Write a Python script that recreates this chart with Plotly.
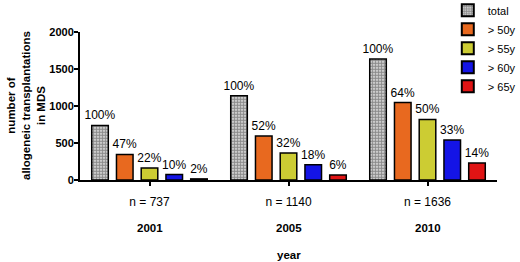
import plotly.graph_objects as go

years = ["2001", "2005", "2010"]
n_totals = [737, 1140, 1636]
series_names = ["total", "> 50y", "> 55y", "> 60y", "> 65y"]
values = {
    "total": [737, 1140, 1636],
    "> 50y": [346, 593, 1047],
    "> 55y": [162, 365, 818],
    "> 60y": [74, 205, 540],
    "> 65y": [15, 68, 229],
}
pct_labels = {
    "total": ["100%", "100%", "100%"],
    "> 50y": ["47%", "52%", "64%"],
    "> 55y": ["22%", "32%", "50%"],
    "> 60y": ["10%", "18%", "33%"],
    "> 65y": ["2%", "6%", "14%"],
}
colors = {
    "total": "#d8d8d8",
    "> 50y": "#e8691f",
    "> 55y": "#cccc33",
    "> 60y": "#1414e6",
    "> 65y": "#e01414",
}

FONT = "Liberation Sans, Arial, sans-serif"
fig = go.Figure()
for name in series_names:
    marker = dict(color=colors[name], line=dict(color="black", width=1.5))
    if name == "total":
        marker["pattern"] = dict(shape=".", fgcolor="#222222", bgcolor="#f4f4f4",
                                 size=3, solidity=0.7, fillmode="overlay")
    fig.add_trace(go.Bar(
        name=name, x=years, y=values[name], text=pct_labels[name],
        textposition="outside", constraintext="none", cliponaxis=False,
        textfont=dict(family=FONT, size=12, color="black"),
        marker=marker,
    ))

ticktext = [f"n = {n}" for n in n_totals]

annotations = []
for i, y in enumerate(years):
    annotations.append(dict(x=i, xref="x", y=0, yref="paper", yshift=-48,
                            text=f"<b>{y}</b>", showarrow=False,
                            font=dict(family=FONT, size=11.5, color="black"),
                            xanchor="center", yanchor="middle"))
annotations.append(dict(x=0.5, xref="paper", y=0, yref="paper", yshift=-75,
                        text="<b>year</b>", showarrow=False,
                        font=dict(family=FONT, size=11.5, color="black"),
                        xanchor="center", yanchor="middle"))
annotations.append(dict(x=0, xref="paper", y=0.5, yref="paper", xshift=-54,
                        text="<b>number of<br>allogeneic transplantations<br>in MDS</b>",
                        textangle=-90, showarrow=False,
                        font=dict(family=FONT, size=11.5, color="black"),
                        xanchor="center", yanchor="middle"))

fig.update_layout(
    width=520, height=262,
    margin=dict(l=80, r=23, t=32, b=82, autoexpand=False),
    paper_bgcolor="white", plot_bgcolor="white",
    barmode="group", bargap=0.11, bargroupgap=0.33,
    font=dict(family=FONT, size=11, color="black"),
    showlegend=True,
    legend=dict(x=0.882, xanchor="left", y=1.245, yanchor="top",
                font=dict(family=FONT, size=11, color="black"),
                tracegroupgap=0, itemsizing="constant",
                bgcolor="rgba(0,0,0,0)"),
    annotations=annotations,
    xaxis=dict(
        type="category", range=[-0.5, 2.5],
        tickmode="array", tickvals=years, ticktext=ticktext,
        ticks="outside", ticklen=4, tickwidth=1.5, tickcolor="black",
        showline=True, linecolor="black", linewidth=2,
        showgrid=False, tickfont=dict(family=FONT, size=12),
        ticklabelstandoff=6,
    ),
    yaxis=dict(
        range=[0, 2000], tickvals=[0, 500, 1000, 1500, 2000],
        ticktext=["<b>0</b>", "<b>500</b>", "<b>1000</b>", "<b>1500</b>", "<b>2000</b>"],
        ticks="outside", ticklen=4, tickwidth=1.5, tickcolor="black",
        showline=True, linecolor="black", linewidth=2,
        showgrid=False, zeroline=False, tickfont=dict(family=FONT, size=11),
        ticklabelstandoff=-2,
    ),
)

fig.write_html("out.html", config={"displayModeBar": False},
               post_script="document.body.style.margin='0px';")
